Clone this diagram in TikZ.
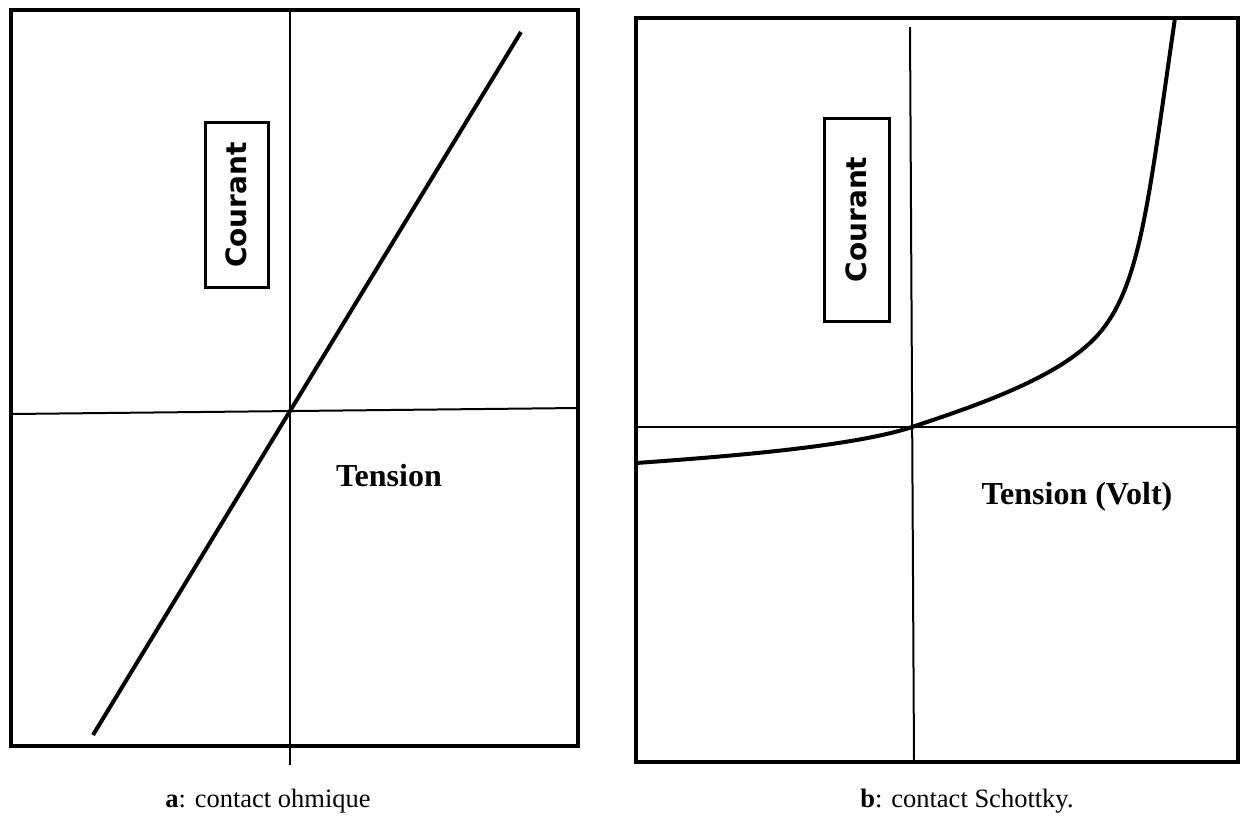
\documentclass[tikz,border=0pt]{standalone}
\usepackage{fontspec}
\setmainfont{Liberation Serif}
\newfontfamily\labelsans{DejaVu Sans}
\begin{document}
\begin{tikzpicture}[x=1pt,y=-1pt,
  frame/.style={line width=4pt},
  axis/.style={line width=2pt},
  curve/.style={line width=4pt},
  vlabel/.style={draw,line width=3pt,rotate=90,inner sep=0pt,minimum width=165pt,minimum height=63pt,font=\labelsans\bfseries\fontsize{28}{30}\selectfont},
  tlabel/.style={font=\bfseries\fontsize{32}{36}\selectfont,inner sep=0pt},
  caption/.style={font=\fontsize{26.5}{30}\selectfont,inner sep=0pt}]
\useasboundingbox (0,0) rectangle (1241,823);
\fill[white] (0,0) rectangle (1241,823);
% ---- panel a ----
\draw[frame] (11,10) rectangle (578,746);
\coordinate (a0) at (290,411);
\draw[axis] (290,10) -- (290,765);
\draw[axis] (11,414) -- (578,408);
\coordinate (aS) at (93,735);
\coordinate (aE) at (521,32);
\draw[curve] (aS) -- (a0) -- (aE);
\node[vlabel] (ac) at (236.5,205) {Courant};
\node[tlabel] (at) at (389,476) {Tension};
\node[caption] (acap) at (268,801) {\textbf{a}: contact ohmique};
% ---- panel b ----
\draw[frame] (636,18) rectangle (1238,762);
\coordinate (b0) at (912,427);
\coordinate (bS) at (636,463);
\coordinate (bK) at (1093,340);
\coordinate (bE) at (1175,18);
\draw[axis] (910,27) -- (914,762);
\draw[axis] (636,427) -- (1238,427);
\draw[curve] (bS) .. controls (720,457) and (852,447) .. (b0)
  .. controls (972,407) and (1053,380) .. (bK)
  .. controls (1140,293) and (1147,210) .. (bE);
\node[vlabel,minimum width=203pt,minimum height=65pt] (bc) at (856.5,219.5) {Courant};
\node[tlabel] (bt) at (1077,497) {Tension (Volt)};
\node[caption] (bcap) at (967,801) {\textbf{b}: contact Schottky.};
\end{tikzpicture}
\end{document}
